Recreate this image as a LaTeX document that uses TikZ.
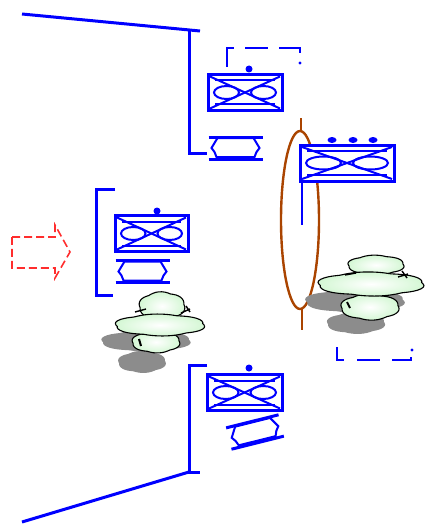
\documentclass[tikz,border=0pt]{standalone}
\usetikzlibrary{calc}
\definecolor{netblue}{RGB}{0,0,255}
\definecolor{ringbrown}{RGB}{170,68,0}
\definecolor{arrowred}{RGB}{255,45,45}
\definecolor{cloudgreen}{RGB}{212,247,212}
\definecolor{shadowgray}{RGB}{140,140,140}

% bumpy closed outline: centre (#1,#2), radii #3 and #4
\newcommand\puffpath[4]{plot[smooth cycle, samples=48, domain=0:352.5]
  ({#1+#3*cos(\x)*(1+0.07*abs(sin(3*\x+20)))},{#2+#4*sin(\x)*(1+0.10*abs(sin(3*\x+20)))})}

\tikzset{
  wire/.style={draw=netblue, line width=3pt},
  dashwire/.style={draw=netblue, line width=2.6pt},
  cloudtier/.style={inner color=white, outer color=cloudgreen, draw=black, line width=1.1pt},
  cloudshadow/.style={fill=shadowgray},
  pics/switchbox/.style={code={
    \pgfmathsetmacro\hw{#1/2}
    \filldraw[fill=white, draw=netblue, line width=3pt] (-\hw,-18) rectangle (\hw,18);
    \begin{scope}[netblue, line width=2pt]
      \draw (-\hw+7,-12) -- (\hw-7,-12);
      \draw (-\hw+7,12) -- (\hw-7,12);
      \draw (-\hw+2,-16) -- (\hw-2,16);
      \draw (-\hw+2,16) -- (\hw-2,-16);
      \draw (-\hw/2,0) ellipse [x radius=\hw/2-6, y radius=6.5];
      \draw (\hw/2,0) ellipse [x radius=\hw/2-6, y radius=6.5];
    \end{scope}
  }},
  pics/hubicon/.style={code={
    \draw[netblue, line width=3pt] (-27,-11) -- (27,-11) (-27,11) -- (27,11);
    \draw[netblue, line width=2pt] (-18,-10) -- (18,-10) -- (21,-5) -- (24,0) -- (21,4) -- (19,9)
      -- (-19,9) -- (-21,4) -- (-24,0) -- (-21,-5) -- cycle;
  }}
}

\begin{document}
\begin{tikzpicture}[x=1pt, y=-1pt, line join=miter]
\useasboundingbox (0,0) rectangle (427,524);

% outer walls
\draw[wire] (22,14) -- (200,31);
\draw[wire] (189,31) -- (189,153) -- (207,153);
\draw[wire] (207,365) -- (189,365) -- (189,472) -- (200,472);
\draw[wire] (189,472) -- (22,522);

% left bracket
\draw[wire] (115,189) -- (96,189) -- (96,295) -- (113,295);

% dashed bracket above the top switch
\draw[dashwire] (227,67) -- (227,48) -- (234,48);
\draw[dashwire] (245,48) -- (268,48);
\draw[dashwire] (279,48) -- (300,48) -- (300,53);
\fill[netblue] (300,63) circle (1.6);

% dashed bracket at lower right
\draw[dashwire] (337,347) -- (337,360) -- (344,360);
\draw[dashwire] (357,360) -- (380,360);
\draw[dashwire] (392,360) -- (411,360) -- (411,357);
\fill[netblue] (412,350) circle (1.6);

% red dashed arrow
\draw[arrowred, line width=1.6pt, dash pattern=on 8pt off 4pt]
  (12,237) -- (55,237) -- (55,225) -- (70,252) -- (55,278) -- (55,268) -- (12,268) -- cycle;

% brown ring
\draw[ringbrown, line width=2.4pt] (300,220) ellipse [x radius=19, y radius=89];
\draw[ringbrown, line width=2.4pt] (301,118) -- (301,131);
\draw[ringbrown, line width=2.4pt] (302,309) -- (302,330);

% top switch
\fill[netblue] (249,69) circle (3.5);
\pic at (245,92.5) {switchbox=74};
\pic at (235.5,148) {hubicon};

% right switch with three lamps
\foreach \lx in {332,353,373} \fill[netblue] (\lx,140) ellipse [x radius=4.5, y radius=3];
\pic at (347,163) {switchbox=94};
\draw[netblue, line width=1.3pt] (302,181) -- (302,225);

% left switch
\fill[netblue] (157,211) circle (3.5);
\pic at (151.5,233.5) {switchbox=73};
\pic at (142.5,271.5) {hubicon};

% bottom switch
\fill[netblue] (249,368) circle (3.5);
\pic at (244.5,392.5) {switchbox=75};
\pic[rotate=14] at (255,432) {hubicon};

% left cloud stack
\fill[cloudshadow] \puffpath{146}{341}{43}{10};
\fill[cloudshadow] \puffpath{142}{362}{23}{10};
\shadedraw[cloudtier] \puffpath{162}{306}{22}{13};
\shadedraw[cloudtier] \puffpath{156}{342}{23}{10};
\shadedraw[cloudtier] \puffpath{160}{325}{43}{10};
\draw[black, line width=1.4pt] (135,312) -- (146,309) (181,313) -- (190,309) (186,306) -- (190,312);
\draw[black, line width=2pt] (139,339) -- (141,346);

% right cloud stack
\fill[cloudshadow] \puffpath{355}{301}{48}{11};
\fill[cloudshadow] \puffpath{356}{323}{28}{10};
\shadedraw[cloudtier] \puffpath{376}{265}{27}{9};
\shadedraw[cloudtier] \puffpath{370}{307}{28}{12};
\shadedraw[cloudtier] \puffpath{371}{284}{51}{11};
\draw[black, line width=1.4pt] (345,275) -- (356,273) (398,277) -- (408,274) (402,271) -- (407,278);
\draw[black, line width=2pt] (347,302) -- (350,308);
\end{tikzpicture}
\end{document}
